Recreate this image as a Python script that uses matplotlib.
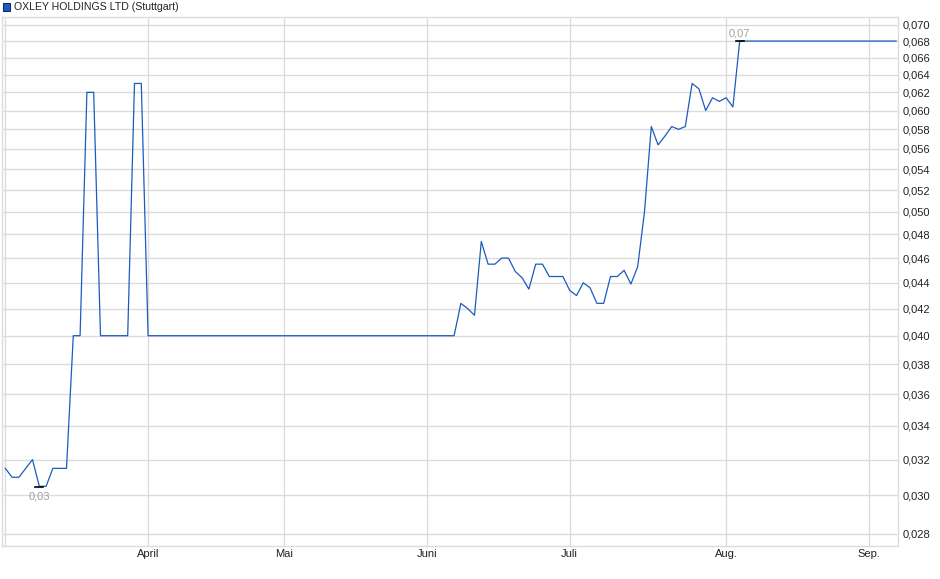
import matplotlib
matplotlib.use("Agg")
import matplotlib.pyplot as plt
from matplotlib.ticker import FixedLocator, FuncFormatter, NullLocator
import pandas as pd

# trading days at Stuttgart (weekdays without the exchange holidays)
start_day = "2025-03-03"
end_day = "2025-09-05"
closed_days = ["2025-04-18", "2025-04-21", "2025-05-01"]

prices = [
    0.0315, 0.031, 0.031, 0.0315, 0.032, 0.0305, 0.0305, 0.0315, 0.0315, 0.0315,
    0.040, 0.040, 0.062, 0.062, 0.040, 0.040, 0.040, 0.040, 0.040, 0.063,
    0.063,
] + [0.040] * 46 + [
    0.0424, 0.042, 0.0415, 0.0474, 0.0455, 0.0455, 0.046, 0.046, 0.0449, 0.0444,
    0.0435, 0.0455, 0.0455, 0.0445, 0.0445, 0.0445, 0.0434, 0.043, 0.044, 0.0436,
    0.0424, 0.0424, 0.0445, 0.0445, 0.045, 0.0439, 0.0453, 0.050, 0.0583, 0.0564,
    0.0573, 0.0583, 0.058, 0.0583, 0.063, 0.0624, 0.060, 0.0614, 0.061, 0.0614,
    0.0604,
] + [0.068] * 24

month_labels = ["April", "Mai", "Juni", "Juli", "Aug.", "Sep."]
month_numbers = [4, 5, 6, 7, 8, 9]
y_ticks = [0.028, 0.030, 0.032, 0.034, 0.036, 0.038, 0.040, 0.042, 0.044, 0.046,
           0.048, 0.050, 0.052, 0.054, 0.056, 0.058, 0.060, 0.062, 0.064, 0.066,
           0.068, 0.070]
low_label = "0,03"
high_label = "0,07"
title = "OXLEY HOLDINGS LTD (Stuttgart)"

days = pd.bdate_range(start_day, end_day)
days = days[~days.isin(pd.to_datetime(closed_days))]
x = list(range(len(days)))

month_pos = [next(i for i, d in enumerate(days) if d.month == m) for m in month_numbers]

plt.rcParams["font.family"] = ["Liberation Sans", "DejaVu Sans"]
grid_col = "#dcdcdc"
line_col = "#1c5bbf"

fig = plt.figure(figsize=(9.4, 5.79), dpi=100)
ax = fig.add_axes([2.3 / 940, 33 / 579, 895.7 / 940, 529 / 579])

ax.plot(x, prices, color=line_col, lw=0.9, zorder=3)

ax.set_yscale("log")
ax.set_ylim(0.02739, 0.07101)
ax.set_xlim(-0.44, len(days) - 1 + 0.28)

ax.yaxis.set_major_locator(FixedLocator(y_ticks))
ax.yaxis.set_minor_locator(NullLocator())
ax.yaxis.set_major_formatter(FuncFormatter(lambda v, p: f"{v:.3f}".replace(".", ",")))
ax.yaxis.tick_right()
ax.set_xticks(month_pos)
ax.set_xticklabels(month_labels)

ax.tick_params(axis="both", length=0, labelsize=8, colors="#222222")
ax.tick_params(axis="y", pad=3.5)
ax.tick_params(axis="x", pad=2)

ax.grid(True, color=grid_col, lw=1)
ax.axvline(0, color=grid_col, lw=1, zorder=1)
for s in ax.spines.values():
    s.set_color(grid_col)
    s.set_linewidth(1)

# low / high markers
lo = prices.index(min(prices))
hi = prices.index(max(prices))
ax.plot([lo - 0.6, lo + 0.6], [min(prices) * 0.998] * 2, color="black", lw=1.2, zorder=4)
ax.plot([hi - 0.6, hi + 0.6], [max(prices)] * 2, color="black", lw=1.2, zorder=4)
ax.annotate(low_label, (lo, min(prices)), xytext=(0, -4), textcoords="offset points",
            ha="center", va="top", fontsize=8, color="#a0a0a0")
ax.annotate(high_label, (hi, max(prices)), xytext=(0, 2), textcoords="offset points",
            ha="center", va="bottom", fontsize=8, color="#a0a0a0")

# legend-like header
fig.patches.append(plt.Rectangle((2.5 / 940, 1 - 10.5 / 579), 7 / 940, 7 / 579,
                                 transform=fig.transFigure, facecolor="#1c5bbf",
                                 edgecolor="#10306a", lw=0.8))
fig.text(14 / 940, 1 - 7 / 579, title, fontsize=7.6, va="center", ha="left", color="#222222")

fig.savefig("out.png", dpi=100)
